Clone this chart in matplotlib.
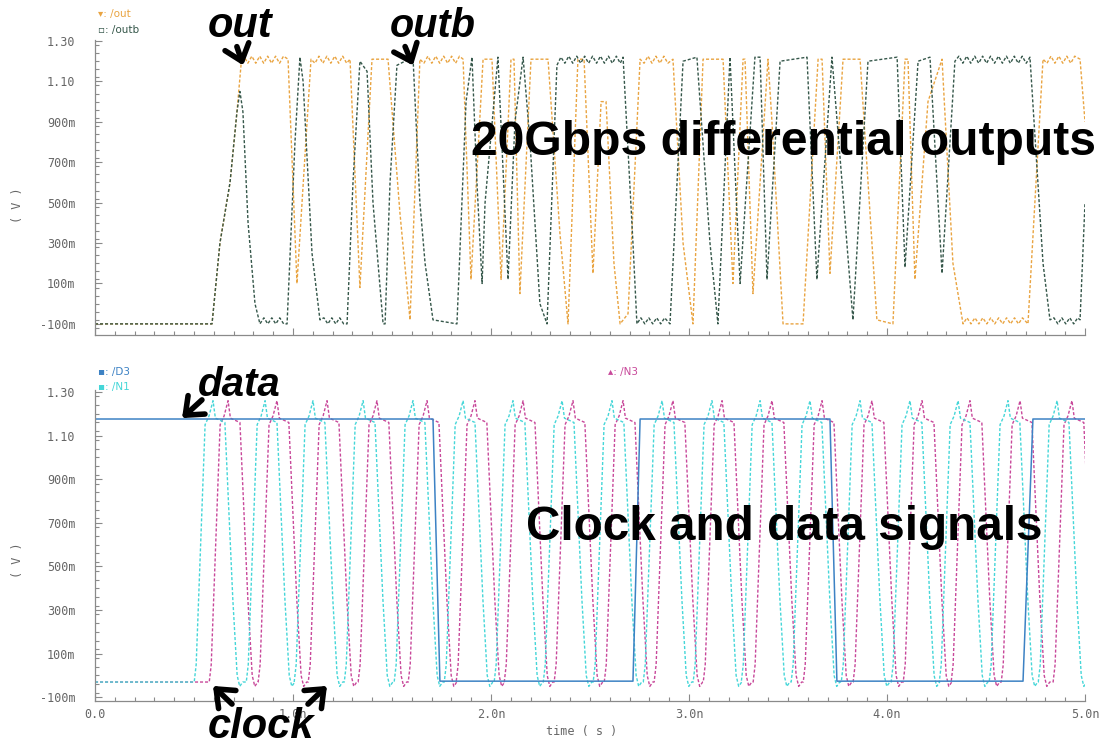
import matplotlib
matplotlib.use("Agg")
import matplotlib.pyplot as plt
from matplotlib.patches import FancyArrowPatch
from matplotlib.ticker import MultipleLocator, FuncFormatter

# ---------------- data ----------------
# /out waveform: (time ns, volts)
out_pts = [
    (0.000, -0.10), (0.591, -0.10), (0.631, 0.30), (0.682, 0.60), (0.717, 0.95),
    (0.740, 1.21),
    (0.752, 1.225), (0.772, 1.19), (0.792, 1.225), (0.812, 1.19), (0.832, 1.225),
    (0.852, 1.19), (0.872, 1.225), (0.892, 1.19), (0.912, 1.225), (0.932, 1.19),
    (0.952, 1.225), (0.975, 1.21), (1.020, 0.10), (1.091, 1.21),
    (1.111, 1.19), (1.131, 1.225), (1.151, 1.19), (1.171, 1.225), (1.191, 1.19),
    (1.211, 1.225), (1.231, 1.19), (1.251, 1.225), (1.271, 1.19), (1.288, 1.21),
    (1.338, 0.08), (1.399, 1.21), (1.480, 1.21), (1.540, 0.45), (1.591, -0.08),
    (1.641, 1.21), (1.661, 1.19), (1.681, 1.225), (1.701, 1.19), (1.721, 1.225),
    (1.741, 1.19), (1.761, 1.225), (1.781, 1.19), (1.801, 1.225), (1.821, 1.19),
    (1.841, 1.225), (1.859, 1.21), (1.899, 0.12), (1.960, 1.21), (2.005, 1.21),
    (2.051, 0.12), (2.101, 1.21), (2.116, 1.21), (2.146, 0.05), (2.202, 1.21),
    (2.288, 1.21), (2.348, 0.35), (2.389, -0.10), (2.439, 1.21), (2.470, 1.21),
    (2.515, 0.15), (2.556, 1.00), (2.581, 1.00), (2.621, 0.20), (2.652, -0.10),
    (2.692, -0.05), (2.753, 1.21), (2.773, 1.19), (2.793, 1.225), (2.813, 1.19),
    (2.833, 1.225), (2.853, 1.19), (2.873, 1.225), (2.893, 1.19), (2.919, 1.21),
    (2.970, 0.30), (3.020, -0.10), (3.071, 1.21), (3.172, 1.21), (3.222, 0.10),
    (3.273, 1.21), (3.283, 1.21), (3.323, 0.05), (3.399, 1.21), (3.419, 0.90),
    (3.475, -0.10), (3.576, -0.10), (3.652, 1.21), (3.672, 1.21), (3.712, 0.15),
    (3.778, 1.21), (3.864, 1.21), (3.949, -0.08), (4.030, -0.10), (4.091, 1.21),
    (4.106, 1.21), (4.141, 0.12), (4.207, 1.00), (4.278, 1.21), (4.333, 0.20),
    (4.384, -0.10), (4.404, -0.07), (4.424, -0.10), (4.444, -0.07), (4.464, -0.10),
    (4.484, -0.07), (4.504, -0.10), (4.524, -0.07), (4.544, -0.10), (4.564, -0.07),
    (4.584, -0.10), (4.604, -0.07), (4.624, -0.10), (4.644, -0.07), (4.664, -0.10),
    (4.684, -0.07), (4.712, -0.10), (4.788, 1.21), (4.808, 1.19), (4.828, 1.225),
    (4.848, 1.19), (4.868, 1.225), (4.888, 1.19), (4.908, 1.225), (4.928, 1.19),
    (4.948, 1.225), (4.975, 1.21), (5.000, 0.90),
]

# /outb waveform: (time ns, volts)
outb_pts = [
    (0.000, -0.10), (0.591, -0.10), (0.631, 0.30), (0.682, 0.60), (0.717, 0.95),
    (0.732, 1.05), (0.747, 0.95), (0.773, 0.40), (0.808, 0.00), (0.833, -0.10),
    (0.853, -0.07), (0.873, -0.10), (0.893, -0.07), (0.913, -0.10), (0.933, -0.07),
    (0.953, -0.10), (0.970, -0.10), (1.010, 0.80), (1.035, 1.22), (1.051, 1.10),
    (1.096, 0.25), (1.136, -0.08), (1.156, -0.07), (1.176, -0.10), (1.196, -0.07),
    (1.216, -0.10), (1.236, -0.07), (1.256, -0.10), (1.273, -0.10), (1.303, 0.60),
    (1.338, 1.20), (1.374, 1.15), (1.404, 0.50), (1.455, -0.10), (1.465, -0.10),
    (1.490, 0.60), (1.525, 1.18), (1.606, 1.22), (1.641, 0.50), (1.667, 0.20),
    (1.707, -0.08), (1.828, -0.10), (1.874, 1.00), (1.904, 1.22), (1.929, 0.60),
    (1.955, 0.10), (1.970, 0.50), (2.035, 1.22), (2.086, 0.12), (2.121, 0.90),
    (2.162, 1.22), (2.197, 0.80), (2.247, 0.00), (2.283, -0.10), (2.333, 1.18),
    (2.353, 1.22), (2.373, 1.19), (2.393, 1.225), (2.413, 1.19), (2.433, 1.225),
    (2.453, 1.19), (2.473, 1.225), (2.493, 1.19), (2.513, 1.225), (2.533, 1.19),
    (2.553, 1.225), (2.573, 1.19), (2.593, 1.225), (2.613, 1.19), (2.633, 1.225),
    (2.653, 1.19), (2.667, 1.22), (2.717, 0.30), (2.737, -0.10), (2.757, -0.07),
    (2.777, -0.10), (2.797, -0.07), (2.817, -0.10), (2.837, -0.07), (2.857, -0.10),
    (2.877, -0.07), (2.904, -0.10), (2.970, 1.20), (3.040, 1.22), (3.106, 0.30),
    (3.146, -0.10), (3.207, 1.22), (3.258, 0.10), (3.333, 1.22), (3.359, 1.22),
    (3.394, 0.12), (3.460, 1.20), (3.596, 1.22), (3.646, 0.12), (3.722, 1.22),
    (3.773, 0.60), (3.828, -0.08), (3.904, 1.20), (4.051, 1.22), (4.091, 0.18),
    (4.157, 1.20), (4.217, 1.22), (4.278, 0.15), (4.343, 1.20), (4.363, 1.225),
    (4.383, 1.19), (4.403, 1.225), (4.423, 1.19), (4.443, 1.225), (4.463, 1.19),
    (4.483, 1.225), (4.503, 1.19), (4.523, 1.225), (4.543, 1.19), (4.563, 1.225),
    (4.583, 1.19), (4.603, 1.225), (4.623, 1.19), (4.643, 1.225), (4.663, 1.19),
    (4.683, 1.225), (4.703, 1.19), (4.722, 1.22), (4.788, 0.20), (4.823, -0.08),
    (4.843, -0.07), (4.863, -0.10), (4.883, -0.07), (4.903, -0.10), (4.923, -0.07),
    (4.943, -0.10), (4.963, -0.07), (4.975, -0.08), (5.000, 0.50),
]

# data input /D3: (time ns, volts)
d3_pts = [(0.000, 1.176), (1.707, 1.176), (1.742, -0.026), (2.717, -0.026),
          (2.753, 1.176), (3.712, 1.176), (3.747, -0.026), (4.687, -0.026),
          (4.737, 1.176), (5.000, 1.176)]

# clock phases: time of each pulse peak (ns)
n1_peaks = [0.596, 0.859, 1.101, 1.354, 1.606, 1.859, 2.111, 2.359, 2.611,
            2.864, 3.116, 3.359, 3.611, 3.864, 4.116, 4.359, 4.611, 4.859]
n3_peaks = [0.672, 0.919, 1.172, 1.424, 1.677, 1.919, 2.162, 2.414, 2.667,
            2.919, 3.167, 3.419, 3.672, 3.924, 4.177, 4.419, 4.672, 4.934]
# one clock pulse: offsets from its peak (ns) and levels (V)
pulse_dt = [-0.095, -0.085, -0.040, -0.020, 0.000, 0.012, 0.060, 0.100, 0.122, 0.135, 0.150]
pulse_v = [-0.03, 0.05, 1.15, 1.19, 1.26, 1.18, 1.16, 0.35, 0.00, -0.05, -0.03]
clk_low = -0.03

y_ticks = [-0.1, 0.1, 0.3, 0.5, 0.7, 0.9, 1.1, 1.3]
x_ticks = [0, 1, 2, 3, 4, 5]

# ---------------- style ----------------
W, H = 1110, 746
C_OUT = "#e9a441"
C_OUTB = "#35574a"
C_D3 = "#3d82c4"
C_N1 = "#45d6d8"
C_N3 = "#c8489a"
C_AX = "#8a8a8a"
C_TXT = "#666666"
DASH = (0, (2.2, 1.4))


def clock_wave(peaks):
    t = [0.0]
    v = [clk_low]
    for p in peaks:
        for dt, lv in zip(pulse_dt, pulse_v):
            t.append(p + dt)
            v.append(lv)
    t.append(5.2)
    v.append(clk_low)
    return t, v


def vfmt(val, pos):
    if abs(val) >= 1.0:
        return f"{val:.2f}"
    return f"{val * 1000:.0f}m"


def tfmt(val, pos):
    if abs(val) < 1e-9:
        return "0.0"
    return f"{val:.1f}n"


def style_axes(ax, ylim, show_x):
    ax.set_xlim(0, 5.0)
    ax.set_ylim(*ylim)
    for s in ("top", "right"):
        ax.spines[s].set_visible(False)
    for s in ("left", "bottom"):
        ax.spines[s].set_color(C_AX)
        ax.spines[s].set_linewidth(0.9)
    ax.set_yticks(y_ticks)
    ax.set_xticks(x_ticks)
    ax.yaxis.set_minor_locator(MultipleLocator(0.04))
    ax.xaxis.set_minor_locator(MultipleLocator(0.1))
    ax.yaxis.set_major_formatter(FuncFormatter(vfmt))
    ax.xaxis.set_major_formatter(FuncFormatter(tfmt))
    ax.tick_params(which="both", direction="in", color=C_AX, width=0.8)
    ax.tick_params(which="major", length=5)
    ax.tick_params(which="minor", length=3)
    ax.tick_params(axis="y", labelsize=8.5, labelcolor=C_TXT, pad=14)
    ax.tick_params(axis="x", labelsize=8.5, labelcolor=C_TXT, pad=5,
                   labelbottom=show_x)
    for lab in ax.get_yticklabels() + ax.get_xticklabels():
        lab.set_family("DejaVu Sans Mono")
    ax.set_facecolor("white")


def split(pts):
    return [p[0] for p in pts], [p[1] for p in pts]


fig = plt.figure(figsize=(W / 100, H / 100), dpi=100)
fig.patch.set_facecolor("white")


def box(left, top, right, bottom):
    return [left / W, 1 - bottom / H, (right - left) / W, (bottom - top) / H]


ax1 = fig.add_axes(box(95, 40, 1085, 335))
ax2 = fig.add_axes(box(95, 390, 1085, 701))

# top panel: differential outputs
ax1.plot(*split(out_pts), color=C_OUT, lw=1.0, ls=DASH)
ax1.plot(*split(outb_pts), color=C_OUTB, lw=1.0, ls=DASH)
style_axes(ax1, (-0.155, 1.305), False)

# bottom panel: clock phases and data
ax2.plot(*clock_wave(n3_peaks), color=C_N3, lw=1.0, ls=DASH)
ax2.plot(*clock_wave(n1_peaks), color=C_N1, lw=1.0, ls=DASH)
ax2.plot(*split(d3_pts), color=C_D3, lw=1.1)
style_axes(ax2, (-0.117, 1.309), True)

# axis titles
for yc in (205, 560):
    fig.text(18 / W, 1 - yc / H, "( V )", rotation=90, ha="center", va="center",
             fontsize=8.5, color=C_TXT, family="DejaVu Sans Mono")
fig.text(582 / W, 1 - 731 / H, "time ( s )", ha="center", va="center",
         fontsize=8.5, color=C_TXT, family="DejaVu Sans Mono")

# trace legends
leg = dict(fontsize=7.5, family="DejaVu Sans", va="center", ha="left")
fig.text(98 / W, 1 - 14 / H, "\u25be: /out", color=C_OUT, **leg)
fig.text(98 / W, 1 - 30 / H, "\u25ab: /outb", color=C_OUTB, **leg)
fig.text(98 / W, 1 - 372 / H, "\u25aa: /D3", color=C_D3, **leg)
fig.text(98 / W, 1 - 387 / H, "\u25aa: /N1", color=C_N1, **leg)
fig.text(608 / W, 1 - 372 / H, "\u25b4: /N3", color=C_N3, **leg)

# callouts
big = dict(family="Liberation Sans", weight="bold", color="black", ha="left",
           va="baseline")
fig.text(471 / W, 1 - 155 / H, "20Gbps differential outputs", fontsize=34.6, **big)
fig.text(526 / W, 1 - 540 / H, "Clock and data signals", fontsize=34.3, **big)
lab = dict(family="Liberation Sans", weight="bold", style="italic",
           color="black", ha="left", va="baseline")
fig.text(208 / W, 1 - 37 / H, "out", fontsize=30, **lab)
fig.text(390 / W, 1 - 37 / H, "outb", fontsize=28.5, **lab)
fig.text(198 / W, 1 - 396 / H, "data", fontsize=29, **lab)
fig.text(208 / W, 1 - 738 / H, "clock", fontsize=30, **lab)

arrows = [((236, 44), (244, 68)), ((404, 44), (414, 68)),
          ((204, 398), (180, 420)), ((234, 706), (211, 684)),
          ((306, 706), (329, 684))]
for (x0, y0), (x1, y1) in arrows:
    fig.add_artist(FancyArrowPatch(
        (x0 / W, 1 - y0 / H), (x1 / W, 1 - y1 / H), transform=fig.transFigure,
        arrowstyle="->,head_length=0.55,head_width=0.45", lw=4.0,
        color="black", mutation_scale=20))

fig.savefig("out.png", dpi=100, facecolor="white")
